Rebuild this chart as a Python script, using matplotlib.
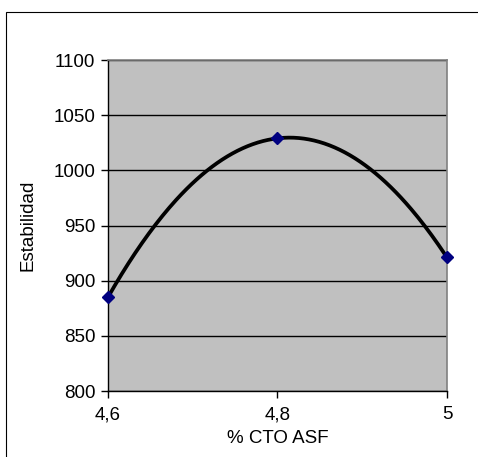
import numpy as np
import matplotlib.pyplot as plt
from matplotlib.patches import Rectangle

plt.rcParams['font.family'] = ['Liberation Sans', 'DejaVu Sans']

# Datos
cto_asf = [4.6, 4.8, 5.0]
estabilidad = [885, 1029, 921]
x_ticks = [4.6, 4.8, 5.0]
x_labels = ["4,6", "4,8", "5"]
y_ticks = [800, 850, 900, 950, 1000, 1050, 1100]

fig = plt.figure(figsize=(4.78, 4.57), dpi=100)
W, H = 478, 457

# marco exterior del grafico (sale por la derecha y por abajo)
fig.patches.append(Rectangle((6 / W, -0.05), 1.1, 1.05 - 12 / H, transform=fig.transFigure,
                             fill=False, edgecolor="black", linewidth=0.8))

ax = fig.add_axes([108 / W, 1 - 391 / H, (447 - 108) / W, (391 - 60) / H])
ax.set_facecolor("#c0c0c0")

# linea de tendencia polinomica (orden 2)
coef = np.polyfit(cto_asf, estabilidad, 2)
xs = np.linspace(min(cto_asf), max(cto_asf), 200)
ax.plot(xs, np.polyval(coef, xs), color="black", linewidth=2.7, zorder=3)
ax.plot(cto_asf, estabilidad, linestyle="none", marker="D", markersize=6,
        color="#000080", zorder=4, clip_on=False)

ax.set_xlim(4.6, 5.0)
ax.set_ylim(800, 1100)
ax.set_xticks(x_ticks)
ax.set_xticklabels(x_labels)
ax.set_yticks(y_ticks)
ax.yaxis.grid(True, color="black", linewidth=1)
ax.set_axisbelow(True)

for s in ["top", "right"]:
    ax.spines[s].set_color("#808080")
    ax.spines[s].set_linewidth(1.2)
for s in ["left", "bottom"]:
    ax.spines[s].set_color("black")
    ax.spines[s].set_linewidth(1)

ax.tick_params(axis="both", direction="out", length=5, width=1, labelsize=13.5,
               colors="black")
ax.tick_params(axis="x", pad=6)
ax.tick_params(axis="y", pad=4)
ax.set_xlabel("% CTO ASF", fontsize=13.5, labelpad=5)
ax.set_ylabel("Estabilidad", fontsize=13.5, labelpad=12)

plt.savefig("out.png", dpi=100)
